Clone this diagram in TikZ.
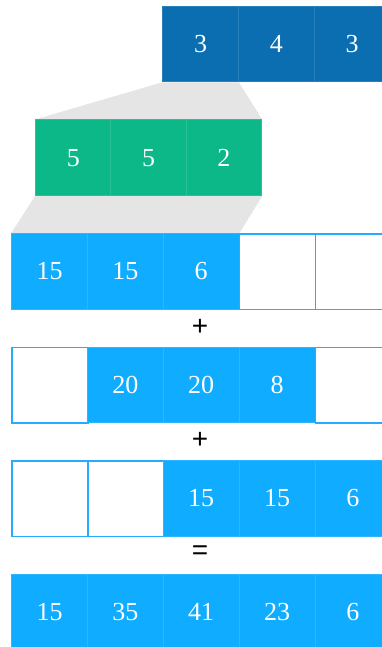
\documentclass[tikz,border=0pt]{standalone}
\usepackage{fontspec}
\setmainfont{Liberation Serif}
\newfontfamily\opfont{Liberation Sans}
\usepackage{xcolor}
\usetikzlibrary{positioning, backgrounds}

\definecolor{darkblue}{RGB}{11,110,176}
\definecolor{mint}{RGB}{12,184,135}
\definecolor{skyblue}{RGB}{16,172,255}
\definecolor{edgeblue}{RGB}{40,170,255}
\definecolor{fanGray}{RGB}{229,229,229}

\tikzset{
    cell/.style={minimum width=75.8pt, minimum height=75.8pt, inner sep=0pt,
        anchor=north west, font=\fontsize{26}{26}\selectfont, text=white},
    fullcell/.style={cell, fill=#1, draw=#1!88!white, line width=0.8pt},
    cellf/.style={fullcell=skyblue},
    celle/.style={cell, fill=white, draw=edgeblue, line width=1.6pt},
    opsign/.style={font=\opfont\fontsize{28}{28}\selectfont, text=black, inner sep=0pt}
}

\begin{document}
\begin{tikzpicture}[x=1pt, y=-1pt]
    \useasboundingbox (0,0) rectangle (382,647);
    \clip (0,0) rectangle (382,647);

    % Kernel (input)
    \foreach \v [count=\i from 0] in {3,4,3}
        \node[fullcell=darkblue] (in-\i) at (162.3+75.8*\i,5.7) {\v};

    % Kernel times first element
    \foreach \v [count=\i from 0] in {5,5,2}
        \node[fullcell=mint] (kern-\i) at (35+75.3*\i,119.5) {\v};

    % Partial products
    \foreach \s/\v [count=\i from 0] in {f/15,f/15,f/6,e/{},e/{}}
        \node[cell\s] (pa-\i) at (11.3+75.8*\i,233) {\v};
    \foreach \s/\v [count=\i from 0] in {e/{},f/20,f/20,f/8,e/{}}
        \node[cell\s] (pb-\i) at (11.3+75.8*\i,346.5) {\v};
    \foreach \s/\v [count=\i from 0] in {e/{},e/{},f/15,f/15,f/6}
        \node[cell\s] (pc-\i) at (11.3+75.8*\i,460) {\v};

    % Sum
    \foreach \v [count=\i from 0] in {15,35,41,23,6}
        \node[cellf] (sum-\i) at (11.3+75.8*\i,573.5) {\v};

    % Operators
    \node[opsign] (plus-a) at (200,327) {+};
    \node[opsign] (plus-b) at (200,440.5) {+};
    \node[opsign] (equals) at (200,553) {=};

    % Gray fans
    \begin{scope}[on background layer]
        \fill[fanGray] (in-0.south west) -- (in-0.south east)
            -- (kern-2.north east) -- (kern-0.north west) -- cycle;
        \fill[fanGray] (kern-0.south west) -- (kern-2.south east)
            -- (pa-2.north east) -- (pa-0.north west) -- cycle;
    \end{scope}
\end{tikzpicture}
\end{document}
